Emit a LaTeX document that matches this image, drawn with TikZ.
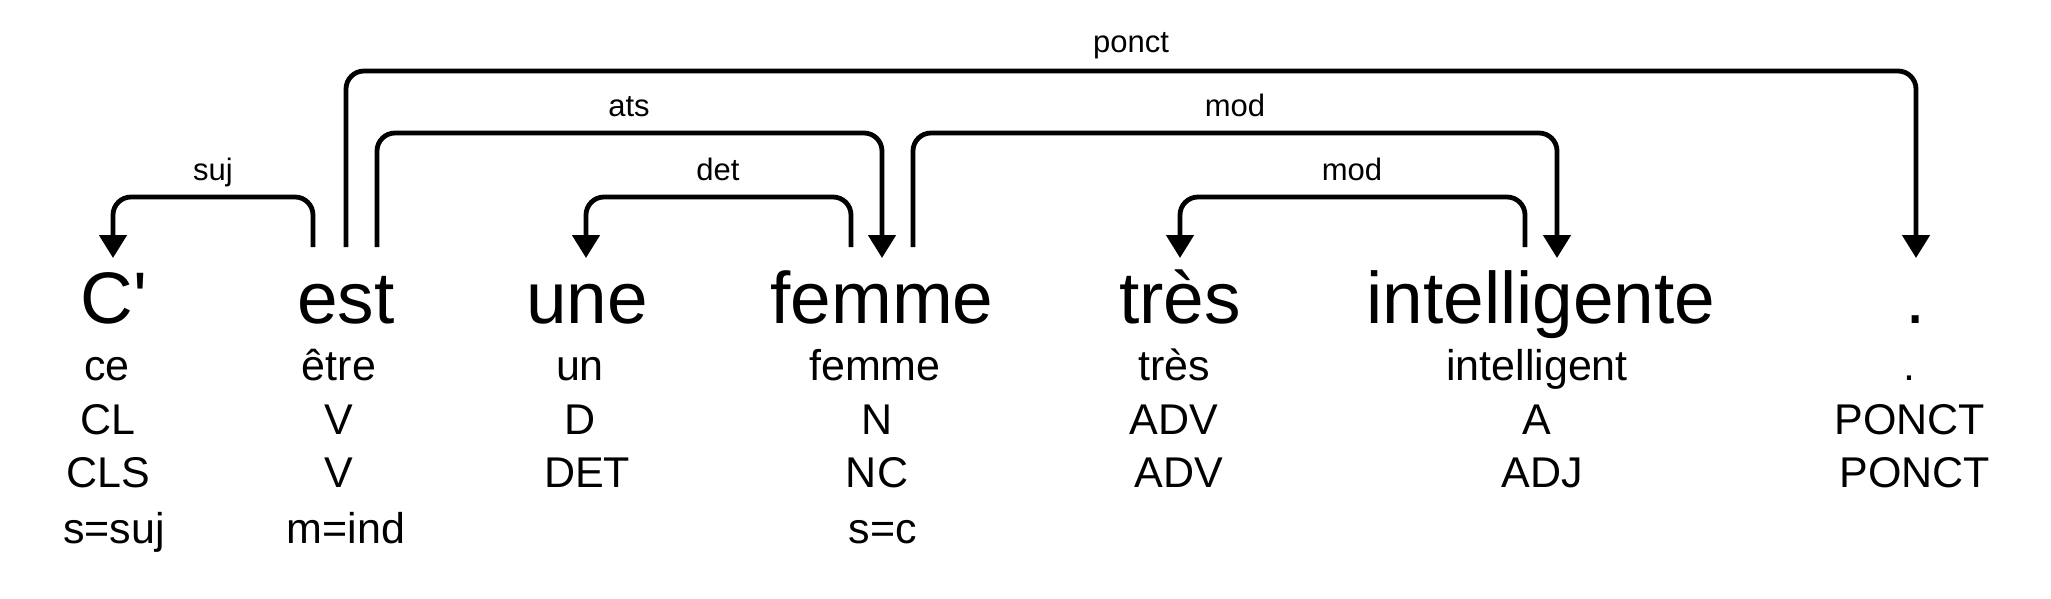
\documentclass[tikz,border=0pt]{standalone}
\usepackage{fontspec}
\setmainfont{Liberation Sans}[Ligatures=TeXOff]
\usetikzlibrary{arrows.meta}
\begin{document}
\begin{tikzpicture}[x=1pt,y=-1pt,
  word/.style={inner sep=0pt,anchor=base,font=\fontsize{73}{80}\selectfont},
  feat/.style={inner sep=0pt,anchor=base,font=\fontsize{43}{48}\selectfont},
  lbl/.style={inner sep=0pt,anchor=base,font=\fontsize{31}{36}\selectfont},
  dep/.style={line width=4.8pt,rounded corners=18pt,-{Triangle[length=23pt,width=27pt]}}]
\useasboundingbox (0,0) rectangle (2051,599);
% words
\node[word] (w1) at (114,323) {C'};
\node[word] (w2) at (346,323) {est};
\node[word] (w3) at (587,323) {une};
\node[word] (w4) at (882,323) {femme};
\node[word] (w5) at (1180,323) {très};
\node[word] (w6) at (1541,323) {intelligente};
\node[word] (w7) at (1916,323) {.};
% lemmas
\node[feat] (l1) at (107,380) {ce};
\node[feat] (l2) at (339,380) {être};
\node[feat] (l3) at (580,380) {un};
\node[feat] (l4) at (875,380) {femme};
\node[feat] (l5) at (1174,380) {très};
\node[feat] (l6) at (1537,380) {intelligent};
\node[feat] (l7) at (1909,380) {.};
% coarse categories
\node[feat] (c1) at (108,434) {CL};
\node[feat] (c2) at (339,434) {V};
\node[feat] (c3) at (580,434) {D};
\node[feat] (c4) at (877,434) {N};
\node[feat] (c5) at (1174,434) {ADV};
\node[feat] (c6) at (1537,434) {A};
\node[feat] (c7) at (1910,434) {PONCT};
% fine categories
\node[feat] (p1) at (108,487) {CLS};
\node[feat] (p2) at (339,487) {V};
\node[feat] (p3) at (587,487) {DET};
\node[feat] (p4) at (877,487) {NC};
\node[feat] (p5) at (1179,487) {ADV};
\node[feat] (p6) at (1542,487) {ADJ};
\node[feat] (p7) at (1915,487) {PONCT};
% morphological features
\node[feat] (m1) at (114,543) {s=suj};
\node[feat] (m2) at (346,543) {m=ind};
\node[feat] (m4) at (883,543) {s=c};
% dependencies
\draw[dep] ([shift={(-33pt,76pt)}]w2.base) -- ++(0,-50) -| ([shift={(-1pt,65pt)}]w1.base);
\draw[dep] ([yshift=76pt]w2.base) -- ++(0,-176) -| ([yshift=65pt]w7.base);
\draw[dep] ([shift={(31pt,76pt)}]w2.base) -- ++(0,-114) -| ([yshift=65pt]w4.base);
\draw[dep] ([shift={(-31pt,76pt)}]w4.base) -- ++(0,-50) -| ([shift={(-1pt,65pt)}]w3.base);
\draw[dep] ([shift={(31pt,76pt)}]w4.base) -- ++(0,-114) -| ([shift={(16pt,65pt)}]w6.base);
\draw[dep] ([shift={(-16pt,76pt)}]w6.base) -- ++(0,-50) -| ([yshift=65pt]w5.base);
% labels
\node[lbl] (dsuj) at (213,180) {suj};
\node[lbl] (dponct) at (1131,53) {ponct};
\node[lbl] (dats) at (629,117) {ats};
\node[lbl] (ddet) at (718,180) {det};
\node[lbl] (dmod1) at (1235,117) {mod};
\node[lbl] (dmod2) at (1352,180) {mod};
\end{tikzpicture}
\end{document}
